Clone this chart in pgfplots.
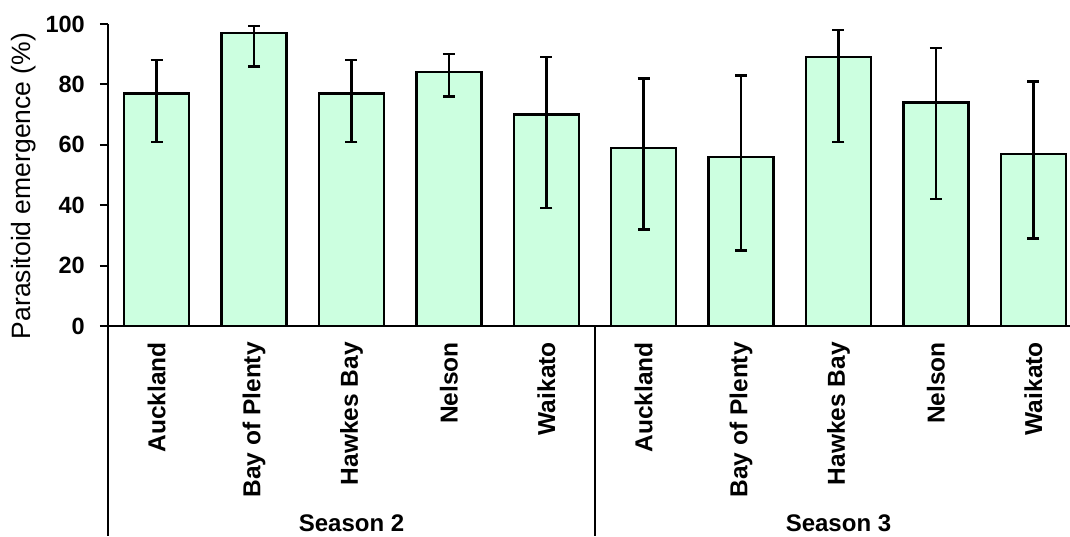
\documentclass[border=0pt]{standalone}
\usepackage{pgfplots}
\pgfplotsset{compat=1.18}
\usepackage{fontspec}
\setmainfont{Liberation Sans}

\definecolor{barfill}{RGB}{204,255,224}

\begin{document}
\begin{tikzpicture}
\useasboundingbox (-108pt,-210pt) rectangle (962pt,326pt);
\begin{axis}[
  name=ax, at={(0,0)}, anchor=south west,
  scale only axis, width=962pt, height=302pt,
  xmin=-0.5, xmax=9.377, ymin=0, ymax=100,
  clip=false,
  axis x line*=bottom, axis y line*=left,
  axis line style={line width=2pt},
  ytick={0,20,...,100},
  tick align=outside,
  major tick length=8pt,
  ytick style={line width=2pt, black},
  xtick={0,...,9},
  xtick style={draw=none},
  xticklabels={Auckland,Bay of Plenty,Hawkes Bay,Nelson,Waikato,
               Auckland,Bay of Plenty,Hawkes Bay,Nelson,Waikato},
  xticklabel shift=8pt,
  xticklabel style={rotate=90, anchor=east, inner sep=0pt,
                    font=\fontsize{24.5}{29}\selectfont\bfseries},
  yticklabel style={font=\fontsize{23.5}{28}\selectfont\bfseries, inner sep=0pt, xshift=-15pt},
  /pgf/number format/assume math mode=true,
  ylabel={Parasitoid emergence (\%)},
  ylabel style={at={(axis description cs:-0.0873,0.4636)}, anchor=center,
                font=\fontsize{26.5}{31}\selectfont},
  ybar, bar width=65pt,
]
\addplot[draw=black, line width=2.3pt, fill=barfill,
  error bars/.cd, y dir=both, y explicit,
  error bar style={line width=2.5pt, black},
  error mark options={rotate=90, mark size=6pt, line width=2.5pt, black}]
coordinates {
  % Season 2
  (0,77) += (0,11)  -= (0,16)
  (1,97) += (0,2.3) -= (0,11)
  (2,77) += (0,11)  -= (0,16)
  (3,84) += (0,6)   -= (0,8)
  (4,70) += (0,19)  -= (0,31)
  % Season 3
  (5,59) += (0,23)  -= (0,27)
  (6,56) += (0,27)  -= (0,31)
  (7,89) += (0,9)   -= (0,28)
  (8,74) += (0,18)  -= (0,32)
  (9,57) += (0,24)  -= (0,28)
};
% group separators of the two-level category axis
\draw[line width=2pt] (axis cs:-0.5,0) -- ([yshift=-210pt]axis cs:-0.5,0);
\draw[line width=2pt] (axis cs:4.5,0) -- ([yshift=-210pt]axis cs:4.5,0);
\draw[line width=2pt] (axis cs:9.5,0) -- ([yshift=-210pt]axis cs:9.5,0);
\node[font=\fontsize{24}{28}\selectfont\bfseries] at ([yshift=-197pt]axis cs:2,0) {Season 2};
\node[font=\fontsize{24}{28}\selectfont\bfseries] at ([yshift=-197pt]axis cs:7,0) {Season 3};
\end{axis}
\end{tikzpicture}
\end{document}
